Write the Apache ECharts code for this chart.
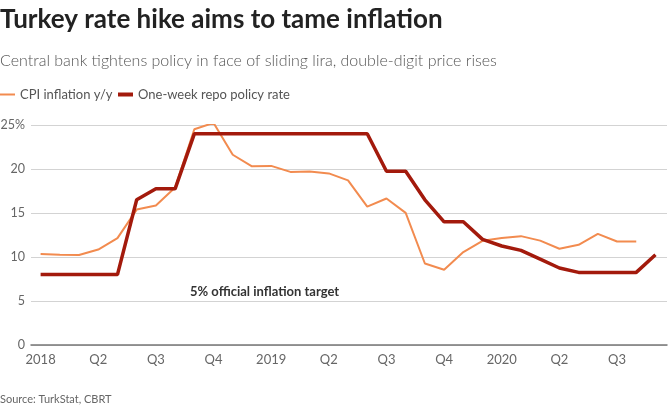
<!DOCTYPE html>
<html>
<head>
<meta charset="utf-8">
<script src="https://cdn.jsdelivr.net/npm/echarts@6/dist/echarts.min.js"></script>
<style>
html,body{margin:0;padding:0;background:#fff;}
#chart{width:670px;height:415px;}
</style>
</head>
<body>
<div id="chart"></div>
<script>
// Monthly index: 0 = Jan 2018 ... 32 = Sep 2020
var monthIndex = [0,1,2,3,4,5,6,7,8,9,10,11,12,13,14,15,16,17,18,19,20,21,22,23,24,25,26,27,28,29,30,31,32];
var cpiInflation = [10.35,10.26,10.23,10.85,12.15,15.39,15.85,17.90,24.52,25.24,21.62,20.30,20.35,19.67,19.71,19.50,18.71,15.72,16.65,15.01,9.26,8.55,10.56,11.84,12.15,12.37,11.86,10.94,11.39,12.62,11.76,11.77];
var policyRate = [8,8,8,8,8,16.5,17.75,17.75,24,24,24,24,24,24,24,24,24,24,19.75,19.75,16.5,14,14,12,11.25,10.75,9.75,8.75,8.25,8.25,8.25,8.25,10.25];
var tickPositions = [0,3,6,9,12,15,18,21,24,27,30];
var tickLabels = ["2018","Q2","Q3","Q4","2019","Q2","Q3","Q4","2020","Q2","Q3"];

var FONT = "Lato, 'Noto Sans', sans-serif";

function pairs(xs, ys){ var out=[]; for(var i=0;i<ys.length;i++){ out.push([xs[i], ys[i]]); } return out; }

var chart = echarts.init(document.getElementById('chart'), null, {renderer:'canvas'});
chart.setOption({
  animation:false,
  backgroundColor:'#fff',
  textStyle:{fontFamily:FONT},
  title:[
    {text:'Turkey rate hike aims to tame inflation', left:0, top:7, padding:0,
     textStyle:{fontFamily:FONT, fontSize:26, fontWeight:'bold', color:'#222'}},
    {text:'Central bank tightens policy in face of sliding lira, double-digit price rises', left:0, top:53, padding:0,
     textStyle:{fontFamily:FONT, fontSize:16, fontWeight:300, color:'#555'}},
    {text:'Source: TurkStat, CBRT', left:0, top:394, padding:0,
     textStyle:{fontFamily:FONT, fontSize:11, fontWeight:'normal', color:'#666'}}
  ],
  legend:[
    {data:['CPI inflation y/y'], left:0, top:88, padding:0, icon:'rect', itemWidth:15, itemHeight:2,
     textStyle:{fontFamily:FONT, fontSize:13, color:'#555'}},
    {data:['One-week repo policy rate'], left:118, top:88, padding:0, icon:'rect', itemWidth:15, itemHeight:4,
     textStyle:{fontFamily:FONT, fontSize:13, color:'#555'}}
  ],
  grid:{left:31, right:3, top:125, bottom:70, containLabel:false, outerBoundsMode:'none'},
  xAxis:{
    type:'value', min:-0.5, max:32.6,
    axisLine:{show:true, onZero:false, lineStyle:{color:'#777', width:1.5}},
    axisTick:{show:false},
    splitLine:{show:false},
    axisLabel:{
      customValues:tickPositions,
      margin:8,
      color:'#666', fontSize:13, fontFamily:FONT,
      formatter:function(v){ var i=tickPositions.indexOf(Math.round(v)); return i>=0?tickLabels[i]:''; }
    }
  },
  yAxis:{
    type:'value', min:0, max:25, interval:5,
    axisLine:{show:false}, axisTick:{show:false},
    splitLine:{lineStyle:{color:'#d3d3d3', width:1}},
    axisLabel:{margin:6, color:'#666', fontSize:12.5, fontFamily:FONT,
      formatter:function(v){ return v===25 ? '25%' : String(v); }}
  },
  graphic:[
    {type:'text', left:190, top:285, style:{text:'5% official inflation target', fill:'#333',
      font:"bold 13px " + FONT}}
  ],
  series:[
    {name:'CPI inflation y/y', type:'line', data:pairs(monthIndex, cpiInflation), showSymbol:false, symbol:'none',
     lineStyle:{color:'#f28b4f', width:2}, itemStyle:{color:'#f28b4f'}, z:2},
    {name:'One-week repo policy rate', type:'line', data:pairs(monthIndex, policyRate), showSymbol:false, symbol:'none',
     lineStyle:{color:'#a31a0c', width:3.5}, itemStyle:{color:'#a31a0c'}, z:3}
  ]
});
</script>
</body>
</html>
